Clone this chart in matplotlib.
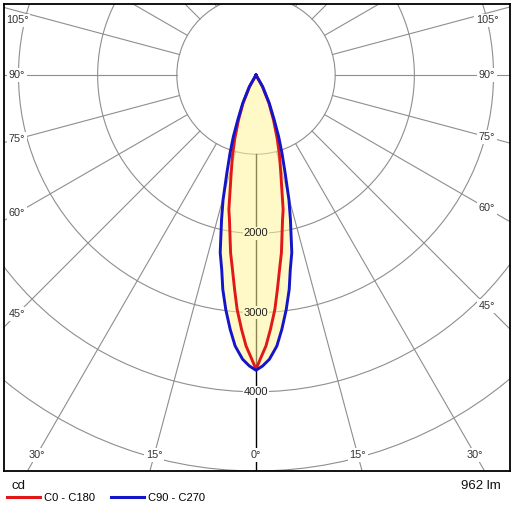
import numpy as np
import matplotlib
matplotlib.use("Agg")
import matplotlib.pyplot as plt
from matplotlib.lines import Line2D
from matplotlib.patches import Circle

plt.rcParams['font.family'] = ['Liberation Sans', 'DejaVu Sans']

# luminous intensity (cd) against gamma angle from nadir (deg)
red_gamma = [0, 0.84, 2.1, 3.25, 4.6, 5.7, 6.9, 8.15, 10.4, 11.4, 12.0, 14.1, 16.3, 18.5,
             21.3, 24.7, 29, 33]
red_cd = [3715, 3590, 3424, 3217, 2970, 2721, 2474, 2265, 1857, 1734, 1610, 1290, 1060, 840,
          608, 392, 168, 0]
blue_gamma = [0, 1.3, 2.7, 4.4, 5.8, 7.35, 8.8, 10.0, 11.4, 13.4, 14.8, 16.5, 18.4, 20.2,
              22.1, 25.2, 29.8, 34]
blue_cd = [3728, 3675, 3593, 3432, 3228, 2985, 2740, 2494, 2287, 1877, 1628, 1300, 1039, 828,
           612, 394, 170, 0]

series_names = ["C0 - C180", "C90 - C270"]
ring_values = [1000, 2000, 3000, 4000, 5000]
ring_labels = [2000, 3000, 4000]
angle_ticks = [0, 15, 30, 45, 60, 75, 90, 105]
unit_label = "cd"
flux_label = "962 lm"

RED = "#e01818"
BLUE = "#1414c8"
GRID = "#8e8e8e"


def lobe(gamma, cd):
    # one half-plane on each side of nadir, mirrored
    g = np.radians(np.asarray(gamma, float))
    i = np.asarray(cd, float)
    g_full = np.concatenate([-g[::-1], g[1:]])
    i_full = np.concatenate([i[::-1], i[1:]])
    return i_full * np.sin(g_full), -i_full * np.cos(g_full)


fig = plt.figure(figsize=(5.12, 5.12), dpi=100)
ax = fig.add_axes([4 / 512, 41 / 512, 506 / 512, 466.7 / 512])

px = 12.63  # cd per pixel
x0, x1 = -252 * px, 254 * px
y0, y1 = -5000, 70.7 * px
ax.set_xlim(x0, x1)
ax.set_ylim(y0, y1)
ax.set_xticks([])
ax.set_yticks([])
for s in ax.spines.values():
    s.set_linewidth(1.3)
    s.set_color("black")
    s.set_zorder(10)

# rings
for r in ring_values:
    ax.add_patch(Circle((0, 0), r, fill=False, ec=GRID, lw=0.8, zorder=1))

# radial lines start at the first ring
r_in, r_out = ring_values[0], 9000
for a in range(0, 360, 15):
    g = np.radians(a)
    col, lw = (("black", 1.0) if a == 0 else (GRID, 0.8))
    ax.plot([r_in * np.sin(g), r_out * np.sin(g)],
            [-r_in * np.cos(g), -r_out * np.cos(g)],
            color=col, lw=lw, zorder=1)

# ring value labels on the nadir line: white box under the fill, text above it
for v in ring_labels:
    ax.text(0, -v, str(v), ha="center", va="center", fontsize=8, color="white",
            bbox=dict(boxstyle="square,pad=0.1", fc="white", ec="none"), zorder=2)
    ax.text(0, -v, str(v), ha="center", va="center", fontsize=8, color="#222222", zorder=6)

# angle labels near the frame
xl, xr = x0 + 13 * px, x1 - 23 * px
yb, yt = y0 + 16 * px, y1 - 16 * px
for a in angle_ticks:
    for side in ((1,) if a == 0 else (-1, 1)):
        g = np.radians(a)
        dx, dy = side * np.sin(g), -np.cos(g)
        ts = []
        if dx > 1e-9:
            ts.append(xr / dx)
        if dx < -1e-9:
            ts.append(xl / dx)
        if dy < -1e-9:
            ts.append(yb / dy)
        t = min(ts)
        tx, ty = t * dx, min(t * dy, yt)
        ax.text(tx, ty, f"{a}°", ha="center", va="center", fontsize=7.8, color="#333333",
                bbox=dict(boxstyle="square,pad=0.15", fc="white", ec="none"), zorder=2)

# curves
rx, ry = lobe(red_gamma, red_cd)
bx, by = lobe(blue_gamma, blue_cd)
ax.fill(bx, by, color="#fff59c", alpha=0.55, lw=0, zorder=3)
ax.plot(rx, ry, color=RED, lw=2.1, zorder=4, solid_joinstyle="round")
ax.plot(bx, by, color=BLUE, lw=2.1, zorder=5, solid_joinstyle="round")

# footer
fig.text(11 / 512, 1 - 486 / 512, unit_label, fontsize=9.5, ha="left", va="center", color="#111111")
fig.text(501 / 512, 1 - 486 / 512, flux_label, fontsize=9.5, ha="right", va="center", color="#111111")
handles = [Line2D([], [], color=RED, lw=2.2), Line2D([], [], color=BLUE, lw=2.2)]
fig.legend(handles, series_names, loc="center left", bbox_to_anchor=(7 / 512, 1 - 498 / 512),
           ncol=2, frameon=False, fontsize=8, handlelength=3.0, handletextpad=0.35,
           columnspacing=1.4, borderpad=0, borderaxespad=0)

fig.savefig("out.png", dpi=100, facecolor="white")
